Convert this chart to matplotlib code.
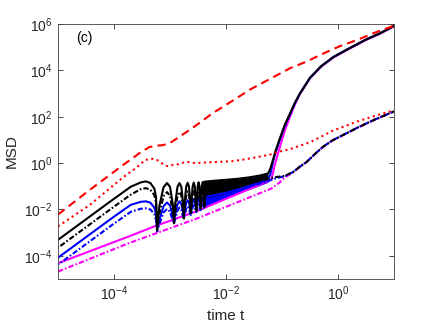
import numpy as np
import matplotlib.pyplot as plt

plt.rcParams['font.family'] = ['Liberation Sans', 'DejaVu Sans']
plt.rcParams['mathtext.fontset'] = 'custom'
plt.rcParams['mathtext.rm'] = 'Liberation Sans'
plt.rcParams['axes.unicode_minus'] = False

# all values are log10 of (time, MSD)

# oscillating start, time grid shared by the four oscillating curves
osc_t = [-5.0, -4.70, -4.30, -4.00, -3.70, -3.52, -3.43, -3.35, -3.28, -3.25, -3.23,
         -3.188, -3.115, -3.053, -2.999, -2.950, -2.928,
         -2.907, -2.867, -2.831, -2.798, -2.767, -2.752,
         -2.738, -2.711, -2.685, -2.661, -2.638, -2.627,
         -2.616, -2.596, -2.576, -2.557, -2.539, -2.530,
         -2.522, -2.505, -2.489, -2.473, -2.458, -2.451,
         -2.444, -2.430, -2.416, -2.403, -2.390, -2.384]
black_solid_osc = [-3.31, -2.78, -2.07, -1.54, -1.02, -0.83, -0.79, -0.86, -1.10, -1.45, -2.80,
                   -1.82, -1.04, -0.86, -1.03, -1.78, -2.45,
                   -1.76, -1.03, -0.86, -1.02, -1.72, -2.24,
                   -1.70, -1.02, -0.85, -1.01, -1.66, -2.09,
                   -1.65, -1.01, -0.84, -1.00, -1.62, -1.97,
                   -1.61, -1.00, -0.83, -0.99, -1.58, -1.88,
                   -1.56, -0.99, -0.82, -0.98, -1.54, -1.80]
black_dd_osc = [-3.65, -3.12, -2.41, -1.88, -1.36, -1.12, -1.08, -1.15, -1.38, -1.70, -2.95,
                -2.17, -1.43, -1.25, -1.42, -2.12, -2.60,
                -2.09, -1.41, -1.24, -1.40, -2.04, -2.39,
                -2.01, -1.39, -1.22, -1.38, -1.97, -2.24,
                -1.95, -1.38, -1.21, -1.37, -1.91, -2.12,
                -1.89, -1.36, -1.20, -1.35, -1.85, -2.03,
                -1.83, -1.34, -1.19, -1.33, -1.80, -1.95]
blue_solid_osc = [-4.08, -3.55, -2.84, -2.31, -1.80, -1.67, -1.65, -1.71, -1.92, -2.20, -2.85,
                  -2.43, -1.86, -1.70, -1.83, -2.30, -2.45,
                  -2.21, -1.79, -1.65, -1.76, -2.12, -2.24,
                  -2.06, -1.73, -1.60, -1.70, -2.00, -2.09,
                  -1.95, -1.67, -1.56, -1.65, -1.90, -1.97,
                  -1.86, -1.62, -1.52, -1.60, -1.82, -1.88,
                  -1.78, -1.57, -1.48, -1.55, -1.75, -1.80]
blue_dd_osc = [-4.38, -3.85, -3.14, -2.61, -2.10, -1.97, -1.95, -2.00, -2.20, -2.45, -2.95,
               -2.63, -2.13, -1.98, -2.10, -2.50, -2.60,
               -2.41, -2.05, -1.92, -2.02, -2.32, -2.39,
               -2.27, -1.98, -1.87, -1.95, -2.20, -2.24,
               -2.16, -1.92, -1.82, -1.90, -2.10, -2.12,
               -2.07, -1.87, -1.78, -1.85, -2.02, -2.03,
               -1.98, -1.81, -1.73, -1.79, -1.94, -1.95]

# dense part of the oscillations: edges of the filled-looking bands
band_t = [-2.384, -2.2, -2.0, -1.8, -1.6, -1.4, -1.25]
black_solid_hi = [-0.80, -0.76, -0.72, -0.68, -0.62, -0.54, -0.45]
black_solid_lo = [-1.23, -1.18, -1.11, -1.02, -0.91, -0.78, -0.68]
black_dd_hi = [-1.12, -1.09, -1.03, -0.95, -0.86, -0.76, -0.68]
black_dd_lo = [-1.51, -1.42, -1.31, -1.17, -1.02, -0.86, -0.74]
blue_solid_hi = [-1.47, -1.38, -1.28, -1.15, -1.00, -0.85, -0.73]
blue_solid_lo = [-1.76, -1.61, -1.44, -1.27, -1.09, -0.91, -0.77]
blue_dd_hi = [-1.62, -1.50, -1.37, -1.21, -1.05, -0.89, -0.77]
blue_dd_lo = [-1.90, -1.72, -1.53, -1.34, -1.15, -0.97, -0.83]

# after the jump (solid group) and the slow branch (dash-dot group)
up_t = [-1.25, -1.21, -1.16, -1.12, -1.04, -0.95, -0.86, -0.77, -0.68, -0.5, -0.3, -0.08, 0.2, 0.5, 0.75, 1.0]
black_up = [-0.45, -0.25, 0.15, 0.50, 1.05, 1.65, 2.12, 2.60, 3.00, 3.68, 4.18, 4.58, 4.95, 5.33, 5.60, 5.92]
blue_up = [-0.73, -0.50, 0.05, 0.42, 1.00, 1.62, 2.10, 2.59, 3.00, 3.68, 4.18, 4.58, 4.95, 5.33, 5.60, 5.92]
low_t = [-1.25, -1.1, -0.95, -0.8, -0.68, -0.56, -0.4, -0.27, -0.1, 0.04, 0.34, 0.63, 1.0]
black_low = [-0.68, -0.60, -0.55, -0.38, -0.15, 0.05, 0.42, 0.70, 0.98, 1.15, 1.52, 1.85, 2.23]
blue_low = [-0.77, -0.65, -0.57, -0.38, -0.15, 0.05, 0.42, 0.70, 0.98, 1.15, 1.52, 1.85, 2.23]

# non-oscillating curves
mag_solid_t = [-5.0, -3.73, -3.3, -2.53, -1.19, -1.13, -1.05, -0.95, -0.86, -0.77, -0.68, -0.5, -0.3, -0.08, 0.2, 0.5, 0.75, 1.0]
mag_solid = [-4.32, -3.16, -2.75, -2.08, -0.72, -0.10, 0.60, 1.40, 1.98, 2.52, 2.98, 3.66, 4.16, 4.56, 4.93, 5.31, 5.58, 5.90]
mag_dd_t = [-5.0, -3.73, -2.53, -1.5, -1.19, -1.05, -0.95, -0.8, -0.68, -0.56, -0.4, -0.27, -0.1, 0.04, 0.34, 0.63, 1.0]
mag_dd = [-4.68, -3.45, -2.40, -1.40, -1.10, -0.85, -0.62, -0.40, -0.16, 0.04, 0.41, 0.69, 0.97, 1.14, 1.51, 1.84, 2.22]
red_dash_t = [-5.0, -4.43, -3.83, -3.55, -3.37, -3.25, -3.14, -3.05, -2.96, -2.6, -2.24, -1.81, -1.58, -1.2,
              -0.86, -0.56, -0.27, 0.04, 0.34, 0.63, 1.0]
red_dash = [-2.22, -1.15, -0.07, 0.42, 0.69, 0.75, 0.77, 0.82, 0.93, 1.51, 2.15, 2.80, 3.16, 3.65,
            4.09, 4.38, 4.72, 5.05, 5.31, 5.60, 5.93]
red_dot_t = [-5.0, -4.43, -3.83, -3.6, -3.45, -3.34, -3.22, -3.12, -3.05, -2.95, -2.85, -2.71, -2.55,
             -2.24, -1.9, -1.64, -1.22, -1.04, -0.86, -0.5, -0.27, -0.09, 0.34, 0.65, 1.0]
red_dot = [-2.73, -1.80, -0.60, -0.20, 0.12, 0.20, 0.12, -0.05, -0.13, -0.08, -0.05, 0.06, 0.00,
           0.04, 0.08, 0.17, 0.36, 0.50, 0.60, 0.90, 1.18, 1.40, 1.79, 2.03, 2.28]


def p10(a):
    return 10.0 ** np.asarray(a)


fig = plt.figure(figsize=(4.36, 3.27), dpi=100)
ax = fig.add_axes([58 / 436, 48 / 327, 336 / 436, 255 / 327])
lw = 1.5
dd = (2.6, 1.0, 0.8, 1.0)   # short dash-dot, like the thick matlab '-.'

# magenta
ax.plot(p10(mag_dd_t), p10(mag_dd), color='#ff00ff', lw=lw, ls=(0.0, dd))
ax.plot(p10(mag_solid_t), p10(mag_solid), color='#ff00ff', ls='-', lw=lw)

# blue
ax.fill_between(p10(band_t), p10(blue_dd_lo), p10(blue_dd_hi), color='#0000ff', lw=0)
ax.plot(p10(osc_t + band_t + low_t), p10(blue_dd_osc + blue_dd_hi + blue_low), color='#0000ff', lw=lw,
        ls=(2.0, dd))
ax.fill_between(p10(band_t), p10(blue_solid_lo), p10(blue_solid_hi), color='#0000ff', lw=0)
ax.plot(p10(osc_t + band_t + up_t), p10(blue_solid_osc + blue_solid_hi + blue_up), color='#0000ff', ls='-', lw=lw)

# black
ax.fill_between(p10(band_t), p10(black_dd_lo), p10(black_dd_hi), color='k', lw=0)
ax.plot(p10(osc_t + band_t + low_t), p10(black_dd_osc + black_dd_hi + black_low), color='k', lw=lw,
        ls=(4.0, dd))
ax.fill_between(p10(band_t), p10(black_solid_lo), p10(black_solid_hi), color='k', lw=0)
ax.plot(p10(osc_t + band_t + up_t), p10(black_solid_osc + black_solid_hi + black_up), color='k', ls='-', lw=lw)

# red
ax.plot(p10(red_dot_t), p10(red_dot), color='#ff0000', ls=':', lw=lw)
ax.plot(p10(red_dash_t), p10(red_dash), color='#ff0000', ls='--', lw=lw, dashes=(4, 2.5))

ax.set_xscale('log')
ax.set_yscale('log')
ax.set_xlim(1e-5, 1e1)
ax.set_ylim(1e-5, 1e6)
ax.set_xticks([1e-4, 1e-2, 1e0])
ax.set_yticks([1e-4, 1e-2, 1e0, 1e2, 1e4, 1e6])
ax.minorticks_off()
ax.tick_params(direction='in', length=3.5, width=0.6, color='#262626', labelsize=10,
               labelcolor='#262626', top=True, right=True, pad=4)
for s in ax.spines.values():
    s.set_color('#404040')
    s.set_linewidth(0.6)

ax.set_xlabel('time t', fontsize=11, color='#262626', labelpad=4)
ax.set_ylabel('MSD', fontsize=11, color='#262626', labelpad=4)
ax.text(0.053, 0.945, '(c)', transform=ax.transAxes, fontsize=10, va='center', ha='left')

fig.savefig('out.png', dpi=100)
